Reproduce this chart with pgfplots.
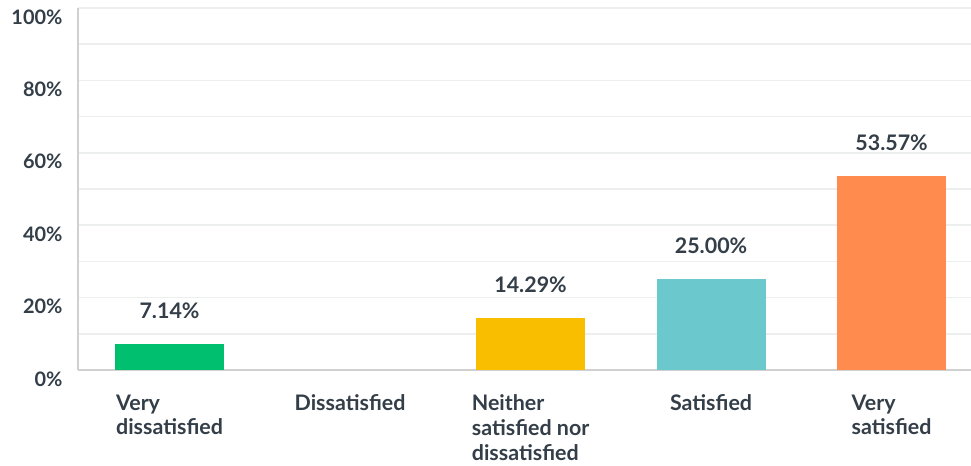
\documentclass[border=0pt]{standalone}
\usepackage{pgfplots}
\pgfplotsset{compat=1.18}
\usepackage{fontspec}
\setmainfont{Lato}
\definecolor{txt}{HTML}{333E48}
\definecolor{gridc}{HTML}{EDEEEE}
\definecolor{axc}{HTML}{D0D0D0}
\definecolor{cgreen}{HTML}{00BF6F}
\definecolor{cyellow}{HTML}{F9BE00}
\definecolor{cteal}{HTML}{6BC8CD}
\definecolor{corange}{HTML}{FF8B4F}
\newcommand\lab{\fontsize{21.5}{25}\selectfont\bfseries}
\newcommand\ylab{\fontsize{20}{24}\selectfont\bfseries}
\begin{document}
\begin{tikzpicture}
\path[use as bounding box] (-78bp,-96bp) rectangle (893bp,370bp);
\begin{axis}[
  scale only axis, width=893bp, height=362bp,
  at={(0,0)}, anchor=south west,
  xmin=-0.507, xmax=4.44, ymin=0, ymax=100,
  xtick={0,...,4},
  xticklabels={{Very\\dissatisfied},Dissatisfied,{Neither\\satisfied nor\\dissatisfied},Satisfied,{Very\\satisfied}},
  ytick={0,20,...,100}, minor ytick={10,30,...,90},
  ymajorgrids, yminorgrids,
  grid style={draw=gridc, line width=1.5bp},
  minor grid style={draw=gridc, line width=1.5bp},
  axis x line*=bottom, axis y line*=left,
  axis line style={draw=axc, line width=1.5bp},
  major tick length=0pt, minor tick length=0pt,
  tick style={draw=none},
  yticklabel={\pgfmathprintnumber{\tick}\%},
  /pgf/number format/assume math mode=true,
  ticklabel style={text=txt},
  xticklabel style={font=\lab, align=left, anchor=north, yshift=-21bp},
  yticklabel style={font=\ylab, anchor=east, xshift=-12bp, yshift=-9bp},
  ybar, bar width=109bp, bar shift=0pt,
  nodes near coords={\pgfmathprintnumber[fixed,fixed zerofill,precision=2]{\pgfplotspointmeta}\%},
  nodes near coords style={text=txt, font=\lab, yshift=22bp},
  clip=false,
]
\addplot[fill=cgreen, draw=none] coordinates {(0,7.14)};
\addplot[fill=cyellow, draw=none] coordinates {(2,14.29)};
\addplot[fill=cteal, draw=none] coordinates {(3,25.00)};
\addplot[fill=corange, draw=none] coordinates {(4,53.57)};
\end{axis}
\end{tikzpicture}
\end{document}
